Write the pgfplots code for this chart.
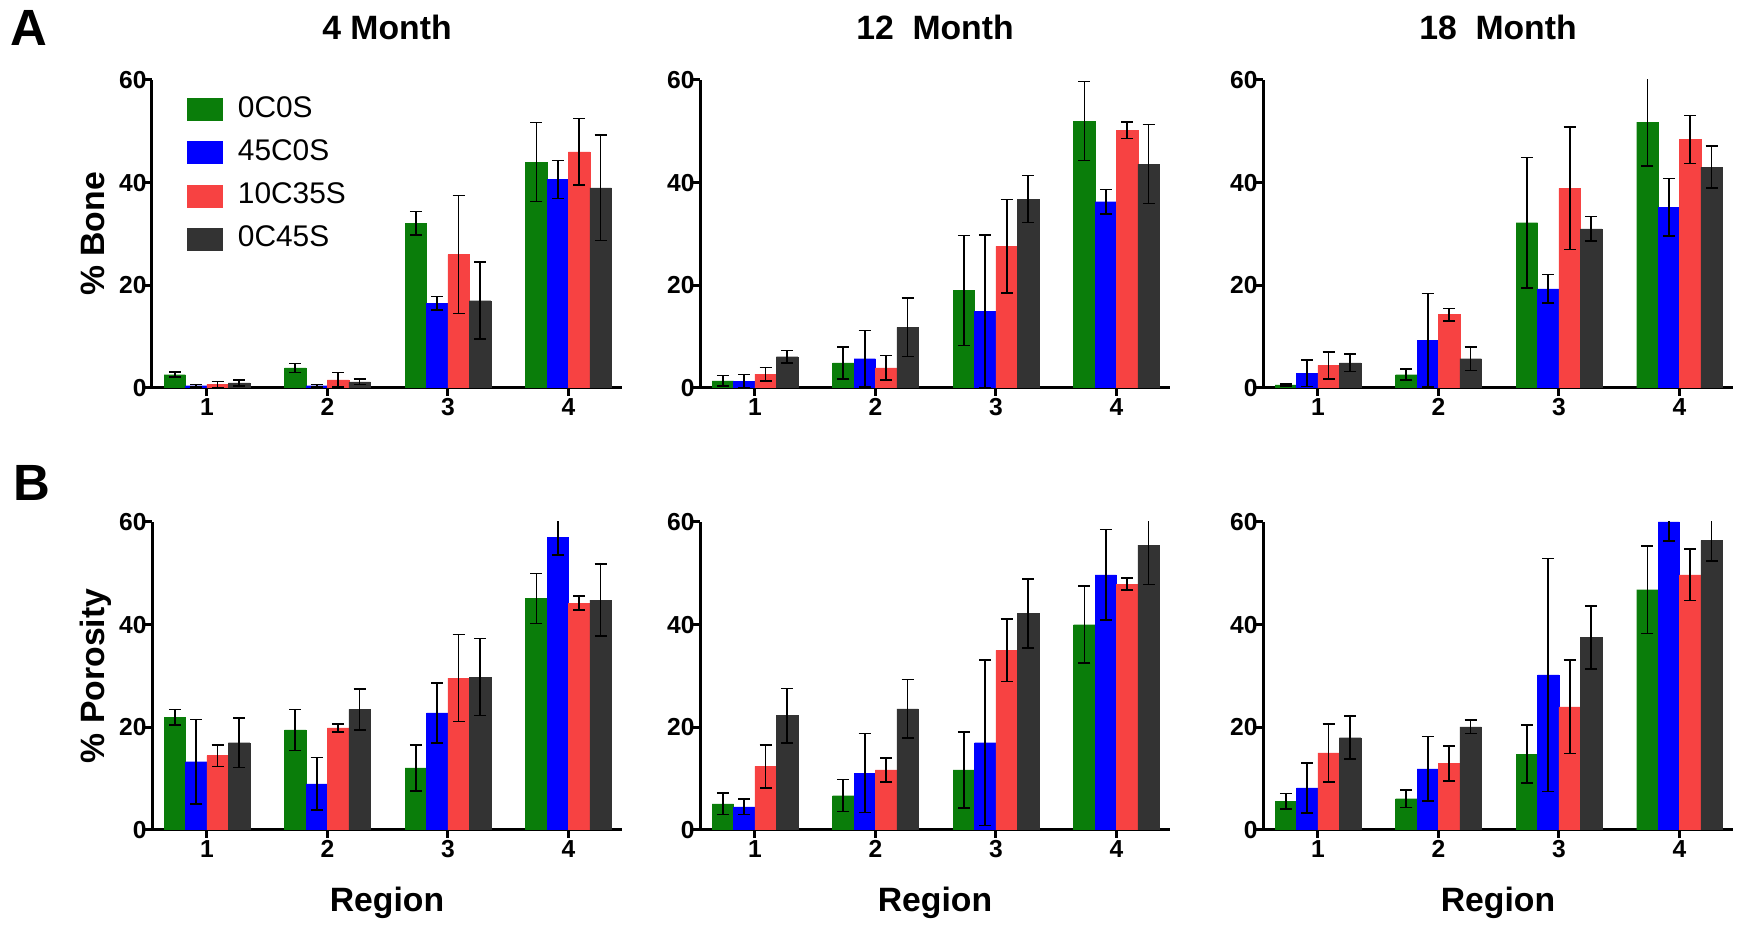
\documentclass[border=0pt]{standalone}
\usepackage{fontspec}
\setmainfont{Liberation Sans}
\usepackage{pgfplots}
\usepackage{pgfplotstable}
\pgfplotsset{compat=1.18}
\definecolor{cg}{RGB}{10,125,10}
\definecolor{cb}{RGB}{0,0,255}
\definecolor{cr}{RGB}{247,66,66}
\definecolor{ck}{RGB}{51,51,51}

% x g ge (0C0S) b be (45C0S) r re (10C35S) k ke (0C45S)
\pgfplotstableread{
x g ge b be r re k ke
1 2.6 0.5 0.45 0.2 0.7 0.6 1.0 0.6
2 3.9 0.9 0.45 0.2 1.6 1.4 1.2 0.5
3 32.1 2.3 16.5 1.3 26.0 11.5 17.0 7.5
4 44.0 7.7 40.6 3.7 46.0 6.5 39.0 10.3
}\tAfour
\pgfplotstableread{
x g ge b be r re k ke
1 1.4 1.0 1.3 1.3 2.7 1.3 6.1 1.2
2 4.9 3.1 5.7 5.5 3.9 2.4 11.8 5.7
3 19.0 10.7 14.9 14.9 27.6 9.1 36.8 4.6
4 52.0 7.7 36.3 2.4 50.2 1.6 43.6 7.7
}\tAtwelve
\pgfplotstableread{
x g ge b be r re k ke
1 0.6 0.2 2.9 2.6 4.4 2.6 4.9 1.7
2 2.6 1.1 9.3 9.1 14.3 1.2 5.7 2.3
3 32.2 12.7 19.3 2.8 38.9 11.9 31.0 2.4
4 51.8 8.5 35.2 5.6 48.4 4.7 43.0 4.1
}\tAeighteen
\pgfplotstableread{
x g ge b be r re k ke
1 22.0 1.5 13.3 8.2 14.5 2.1 17.0 4.8
2 19.5 4.0 9.0 5.1 19.9 0.8 23.5 4.0
3 12.1 4.5 22.8 5.8 29.6 8.5 29.8 7.5
4 45.1 4.9 57.0 3.4 44.2 1.4 44.8 7.0
}\tBfour
\pgfplotstableread{
x g ge b be r re k ke
1 5.1 2.1 4.5 1.5 12.4 4.2 22.3 5.3
2 6.7 3.1 11.1 7.7 11.7 2.3 23.6 5.7
3 11.7 7.4 17.0 16.1 35.0 6.1 42.2 6.7
4 40.0 7.5 49.7 8.8 47.9 1.2 55.5 7.7
}\tBtwelve
\pgfplotstableread{
x g ge b be r re k ke
1 5.6 1.5 8.2 4.9 15.0 5.7 18.0 4.2
2 6.1 1.7 11.9 6.3 13.0 3.4 20.1 1.3
3 14.8 5.6 30.2 22.7 24.0 9.1 37.5 6.1
4 46.8 8.5 60.0 3.7 49.7 5.0 56.4 4.0
}\tBeighteen

\pgfplotsset{
  panel/.style={
    scale only axis, width=47mm, height=30.8mm,
    xmin=0.544, xmax=4.444, ymin=0, ymax=60,
    axis x line*=bottom, axis y line*=left,
    axis line style={line width=0.3mm, -},
    xtick={1,2,3,4}, ytick={0,20,40,60},
    tick align=outside, major tick length=0.8mm,
    tick style={line width=0.3mm, black},
    tick label style={font=\fontsize{7}{8}\selectfont\bfseries},
    yticklabel style={xshift=1.5mm},
    xticklabel style={yshift=1.0mm},
    /pgf/number format/assume math mode=true,
    ybar, bar width=0.178,
    clip marker paths=true,
    every axis title shift=0pt,
    title style={at={(axis description cs:0.5,1.13)}, anchor=base, font=\fontsize{9.6}{10}\selectfont\bfseries},
    ylabel style={at={(axis description cs:-0.1,0.5)}, anchor=base, font=\fontsize{9.6}{10}\selectfont\bfseries},
    xlabel style={at={(axis description cs:0.5,-0.265)}, anchor=base, font=\fontsize{9.6}{10}\selectfont\bfseries},
  },
  pg/.style={fill=cg, draw=cg, line width=0.05pt, bar shift=-0.267},
  pb/.style={fill=cb, draw=cb, line width=0.05pt, bar shift=-0.089},
  pr/.style={fill=cr, draw=cr, line width=0.05pt, bar shift=0.089},
  pk/.style={fill=ck, draw=ck, line width=0.05pt, bar shift=0.267},
  eb/.style={error bars/.cd, y dir=both, y explicit, error mark=|,
    error bar style={line width=0.16mm, black},
    error mark options={line width=0.16mm, mark size=0.6mm, black}},
}
\newcommand{\bars}[1]{%
  \addplot[pg, eb] table[x=x, y=g, y error=ge] {#1};
  \addplot[pb, eb] table[x=x, y=b, y error=be] {#1};
  \addplot[pr, eb] table[x=x, y=r, y error=re] {#1};
  \addplot[pk, eb] table[x=x, y=k, y error=ke] {#1};
}

\begin{document}
\begin{tikzpicture}
\useasboundingbox (0,0) rectangle (174.3mm,93mm);
\node[anchor=base west, font=\fontsize{14.5}{15}\selectfont\bfseries, inner sep=0pt] at (1.0mm,88.4mm) {A};
\node[anchor=base west, font=\fontsize{14.5}{15}\selectfont\bfseries, inner sep=0pt] at (1.3mm,42.9mm) {B};

% Row A
\begin{axis}[panel, at={(15.2mm,54.2mm)}, anchor=south west,
  title={4 Month}, ylabel={\% Bone},
  legend style={at={(axis description cs:0.05,0.995)}, anchor=north west, draw=none, fill=none,
    font=\fontsize{8.5}{9}\selectfont, row sep=0.3mm},
  legend cell align=left,
  legend image code/.code={\fill[#1] (0mm,-1.1mm) rectangle (3.5mm,1.1mm); \path (4.4mm,0);}]
\bars{\tAfour}
\legend{0C0S,45C0S,10C35S,0C45S}
\end{axis}
\begin{axis}[panel, at={(70.0mm,54.2mm)}, anchor=south west, title={12\ \ Month}]
\bars{\tAtwelve}
\end{axis}
\begin{axis}[panel, at={(126.3mm,54.2mm)}, anchor=south west, title={18\ \ Month}]
\bars{\tAeighteen}
\end{axis}

% Row B
\begin{axis}[panel, at={(15.2mm,10.0mm)}, anchor=south west, ylabel={\% Porosity}, xlabel={Region}]
\bars{\tBfour}
\end{axis}
\begin{axis}[panel, at={(70.0mm,10.0mm)}, anchor=south west, xlabel={Region}]
\bars{\tBtwelve}
\end{axis}
\begin{axis}[panel, at={(126.3mm,10.0mm)}, anchor=south west, xlabel={Region}]
\bars{\tBeighteen}
\end{axis}
\end{tikzpicture}
\end{document}
